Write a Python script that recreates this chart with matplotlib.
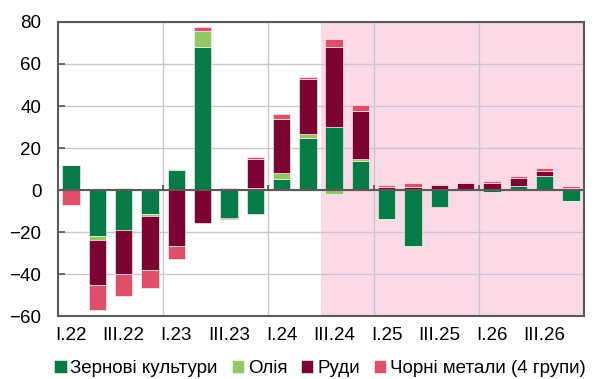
import matplotlib
matplotlib.use("Agg")
import matplotlib.pyplot as plt
import numpy as np

plt.rcParams['font.family'] = ['Liberation Sans', 'DejaVu Sans']

quarters = ["I.22", "II.22", "III.22", "IV.22", "I.23", "II.23", "III.23", "IV.23",
            "I.24", "II.24", "III.24", "IV.24", "I.25", "II.25", "III.25", "IV.25",
            "I.26", "II.26", "III.26", "IV.26"]
grain = [12.0, -21.7, -19.0, -11.4, 9.6, 68.2, -13.3, -11.4, 5.4, 24.8,
         30.0, 13.8, -13.8, -26.7, -8.2, 0.0, -1.0, 2.0, 6.5, -5.0]
oil = [0.0, -2.1, 1.0, -1.1, 0.6, 7.7, 0.5, 1.0, 2.6, 2.0,
       -1.8, 1.1, -0.5, -0.6, 0.0, 0.0, -0.3, 0.0, 0.0, -0.3]
ores = [0.0, -21.4, -21.0, -25.5, -26.5, -15.7, -0.5, 13.6, 26.0, 26.1,
        38.1, 22.8, 1.5, 1.5, 2.6, 3.4, 3.3, 3.6, 2.7, 1.0]
metals = [-7.0, -11.8, -10.5, -8.4, -6.4, 1.6, 0.7, 1.1, 2.4, 0.7,
          3.7, 3.0, 1.0, 1.9, 0.5, 0.3, 0.8, 0.9, 1.1, 0.7]
series_names = ["Зернові культури", "Олія", "Руди", "Чорні метали (4 групи)"]
colors = ["#077b45", "#93c764", "#7b0432", "#df4f69"]
forecast_start = "III.24"

fig = plt.figure(figsize=(6.04, 3.79), dpi=100)
ax = fig.add_axes([0.096, 0.166, 0.871, 0.776])

x = np.arange(len(quarters))
n = len(quarters)

# forecast shading
fs = quarters.index(forecast_start)
ax.axvspan(fs - 0.5, n - 0.5, color="#fbd9e6", zorder=0, lw=0)

pos_base = np.zeros(n)
neg_base = np.zeros(n)
for vals, name, c in zip([grain, oil, ores, metals], series_names, colors):
    v = np.array(vals)
    bottoms = np.where(v >= 0, pos_base, neg_base)
    ax.bar(x, v, bottom=bottoms, width=0.66, color=c, label=name,
           edgecolor="#ffffff", linewidth=0.4, zorder=3)
    pos_base += np.where(v >= 0, v, 0)
    neg_base += np.where(v < 0, v, 0)

ax.set_xlim(-0.5, n - 0.5)
ax.set_ylim(-60, 80)
ax.set_yticks(np.arange(-60, 81, 20))

# year boundaries as vertical gridlines
for b in np.arange(3.5, n - 1, 4):
    ax.axvline(b, color="#c8c8cc", lw=1.0, zorder=1)
    ax.vlines(b, 0, 2.2, color="#5a5a5a", lw=1.3, zorder=4)
ax.yaxis.grid(True, color="#c8c8cc", lw=1.0, zorder=1)
ax.set_axisbelow(True)
ax.axhline(0, color="#5a5a5a", lw=1.5, zorder=4)

ax.set_xticks(x[::2])
ax.set_xticklabels(quarters[::2], fontsize=13.5)
ax.tick_params(axis="x", length=0, pad=8)
ax.tick_params(axis="y", direction="in", length=5, width=1.2, color="#5a5a5a",
               labelsize=13.5, pad=12)
for s in ax.spines.values():
    s.set_color("#5a5a5a")
    s.set_linewidth(1.5)

ax.legend(loc="upper center", bbox_to_anchor=(0.498, -0.15), ncol=4, frameon=False,
          fontsize=13.5, handlelength=0.65, handleheight=0.65, handletextpad=0.2,
          columnspacing=0.75, borderaxespad=0, borderpad=0)

fig.savefig("out.png", dpi=100)
